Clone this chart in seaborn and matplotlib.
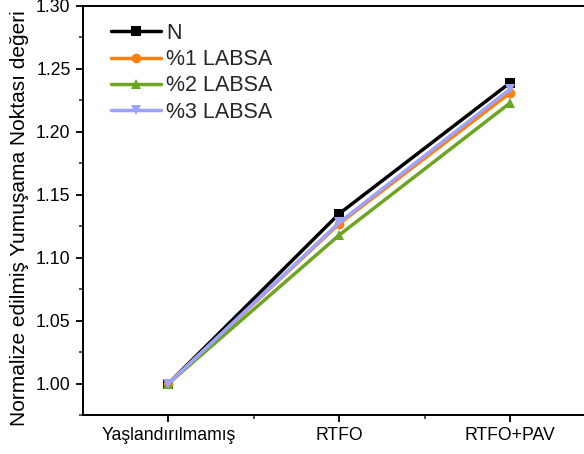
import matplotlib
matplotlib.use("Agg")
import matplotlib.pyplot as plt
import seaborn as sns
import pandas as pd
from matplotlib.ticker import MultipleLocator, FixedLocator

categories = ["Yaşlandırılmamış", "RTFO", "RTFO+PAV"]
series_names = ["N", "%1 LABSA", "%2 LABSA", "%3 LABSA"]
val_N = [1.000, 1.135, 1.239]
val_1 = [1.000, 1.127, 1.231]
val_2 = [1.000, 1.118, 1.223]
val_3 = [1.000, 1.128, 1.234]

colors = ["#000000", "#FF7F0E", "#6BA521", "#9CA3FF"]
markers = ["s", "o", "^", "v"]

rows = []
for name, vals in zip(series_names, [val_N, val_1, val_2, val_3]):
    for i, (c, v) in enumerate(zip(categories, vals)):
        rows.append({"x": i, "cat": c, "y": v, "series": name})
df = pd.DataFrame(rows)

sns.set_theme(style="white")
plt.rcParams["font.family"] = ["Liberation Sans", "DejaVu Sans"]

fig = plt.figure(figsize=(5.84, 4.54), dpi=100)
ax = fig.add_axes([83 / 584, 39 / 454, (595.5 - 83) / 584, (415 - 6) / 454])

sns.lineplot(data=df, x="x", y="y", hue="series", style="series",
             hue_order=series_names, style_order=series_names,
             palette=colors, markers=markers, dashes=False,
             linewidth=2.5, markersize=7, markeredgewidth=0,
             ax=ax, legend=True)

ax.set_xlim(-0.5, 2.5)
ax.set_ylim(0.975, 1.30)
ax.xaxis.set_major_locator(FixedLocator([0, 1, 2]))
ax.set_xticklabels(categories)
ax.xaxis.set_minor_locator(FixedLocator([0.5, 1.5]))
ax.yaxis.set_major_locator(MultipleLocator(0.05))
ax.yaxis.set_minor_locator(MultipleLocator(0.025))
ax.yaxis.set_major_formatter(matplotlib.ticker.FormatStrFormatter("%.2f"))

ax.tick_params(axis="both", which="major", direction="out", length=5, width=1.3,
               labelsize=12.7, colors="#000000", pad=4)
ax.tick_params(axis="both", which="minor", direction="out", length=3, width=1.1)
ax.tick_params(axis="x", which="both", bottom=True)
ax.tick_params(axis="y", which="both", left=True)
for s in ["left", "bottom", "top", "right"]:
    ax.spines[s].set_visible(True)
    ax.spines[s].set_color("#000000")
    ax.spines[s].set_linewidth(1.4)

ax.set_xlabel("")
ax.set_ylabel("Normalize edilmiş Yumuşama Noktası değeri", fontsize=15, color="#000000")
# center the label at about 218 px from the top of the figure
ax.yaxis.set_label_coords(-0.105, (454 - 218 - 39) / 409)

leg = ax.legend(loc="upper left", bbox_to_anchor=(111 / 584, 1 - 23 / 454),
                bbox_transform=fig.transFigure, frameon=False, fontsize=15.5,
                handlelength=2.3, handletextpad=0.25, labelspacing=0.24,
                borderpad=0, borderaxespad=0)

fig.savefig("out.png", dpi=100)
